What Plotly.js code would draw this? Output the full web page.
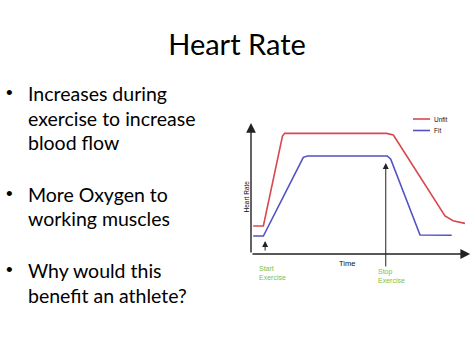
<!DOCTYPE html>
<html>
<head>
<meta charset="utf-8">
<script src="https://cdn.plot.ly/plotly-3.0.1.min.js"></script>
<style>
html,body{margin:0;padding:0;background:#fff;}
#chart{width:474px;height:355px;}
</style>
</head>
<body>
<div id="chart"></div>
<script>
// ---- data ----
const seriesNames = ['Unfit', 'Fit'];
const unfitTime = [1, 5.7, 14.5, 15.5, 62.5, 65.6, 89.4, 93.1, 98.6];
const unfitRate = [21.4, 21.4, 90, 92.1, 92.1, 90.8, 29, 25.4, 23.4];
const fitTime = [1, 5.7, 24.1, 26, 62.8, 64.4, 77.9, 92.5];
const fitRate = [13.7, 13.7, 73.8, 74.8, 74.8, 72.3, 14.5, 14.3];
const eventTimes = [6.5, 62.1];
const eventLabels = ['Start<br>Exercise', 'Stop<br>Exercise'];
const xTitle = 'Time';
const yTitle = 'Heart Rate';
const slideTitle = 'Heart Rate';
const bulletLines = [
  ['Increases during', 'exercise to increase', 'blood flow'],
  ['More Oxygen to', 'working muscles'],
  ['Why would this', 'benefit an athlete?']
];

// ---- layout helpers (plot area: x 251..468 px, y 123..254 px) ----
const PL = 251, PT = 123, PW = 217, PH = 131;
const px = v => (v - PL) / PW;
const py = v => (PT + PH - v) / PH;

const lineColors = ['#d9474f', '#5252c2'];
const green = '#7cbf4a';
const axisCol = '#222222';

const traces = [
  {x: unfitTime, y: unfitRate, name: seriesNames[0], mode: 'lines',
   line: {color: lineColors[0], width: 1.6}, hoverinfo: 'skip', cliponaxis: false},
  {x: fitTime, y: fitRate, name: seriesNames[1], mode: 'lines',
   line: {color: lineColors[1], width: 1.6}, hoverinfo: 'skip', cliponaxis: false}
];

const font = 'Lato, "Open Sans", sans-serif';
const annotations = [];
const shapes = [];

// axes with arrowheads
annotations.push({x: 101, y: 0, ax: 0, ay: 0, xref: 'x', yref: 'y', axref: 'x', ayref: 'y',
  showarrow: true, arrowhead: 2, arrowsize: 1.4, arrowwidth: 1.4, arrowcolor: axisCol, text: ''});
annotations.push({x: 0, y: 100, ax: 0, ay: 0, xref: 'x', yref: 'y', axref: 'x', ayref: 'y',
  showarrow: true, arrowhead: 2, arrowsize: 1.4, arrowwidth: 1.4, arrowcolor: axisCol, text: ''});

// axis titles
annotations.push({x: px(347), y: py(263), xref: 'paper', yref: 'paper', xanchor: 'center', yanchor: 'middle',
  text: xTitle, showarrow: false, font: {family: 'Arial, sans-serif', size: 7.5, color: '#111'}});
annotations.push({x: px(245.5), y: py(197), xref: 'paper', yref: 'paper', xanchor: 'center', yanchor: 'middle',
  text: yTitle, textangle: -90, showarrow: false, font: {family: 'Arial, sans-serif', size: 6.5, color: '#111'}});

// event arrows
const eventTailPx = [11, 105];
eventTimes.forEach((t, i) => {
  const headY = i === 0 ? 9.9 : 69.5;
  annotations.push({x: t, y: headY, xref: 'x', yref: 'y', ax: 0, ay: eventTailPx[i], axref: 'pixel', ayref: 'pixel',
    showarrow: true, arrowhead: 2, arrowsize: 1.2, arrowwidth: 1, arrowcolor: axisCol, text: ''});
});
const eventLabelPos = [[257, 273], [376, 276]];
eventLabels.forEach((lab, i) => {
  annotations.push({x: px(eventLabelPos[i][0]), y: py(eventLabelPos[i][1]), xref: 'paper', yref: 'paper',
    xanchor: 'left', yanchor: 'middle', align: 'left', text: lab, showarrow: false,
    font: {family: 'Arial, sans-serif', size: 7, color: green}});
});

// legend
const legY = [119, 130.5];
seriesNames.forEach((n, i) => {
  shapes.push({type: 'line', xref: 'paper', yref: 'paper', x0: px(413), x1: px(430), y0: py(legY[i]), y1: py(legY[i]),
    line: {color: lineColors[i], width: 1.6}});
  annotations.push({x: px(432), y: py(legY[i]), xref: 'paper', yref: 'paper', xanchor: 'left', yanchor: 'middle',
    text: n, showarrow: false, font: {family: 'Arial, sans-serif', size: 6.5, color: '#111'}});
});

// bullets
const bulletCenters = [[93, 118, 142], [194, 218], [270, 295]];
bulletLines.forEach((lines, b) => {
  annotations.push({x: px(4), y: py(bulletCenters[b][0] - 0.5), xref: 'paper', yref: 'paper', xanchor: 'left', yanchor: 'middle',
    text: '•', showarrow: false, font: {family: 'Arial, sans-serif', size: 19, color: '#000'}});
  lines.forEach((l, j) => {
    annotations.push({x: px(26), y: py(bulletCenters[b][j]), xref: 'paper', yref: 'paper', xanchor: 'left', yanchor: 'middle',
      text: l, showarrow: false, font: {family: font, size: 19.5, color: '#000'}});
  });
});

const layout = {
  width: 474, height: 355,
  margin: {l: PL, r: 474 - PL - PW, t: PT, b: 355 - PT - PH},
  paper_bgcolor: '#ffffff', plot_bgcolor: '#ffffff',
  showlegend: false,
  title: {text: slideTitle, x: 0.5, xanchor: 'center', y: 1 - 45 / 355, yanchor: 'middle', yref: 'container',
    font: {family: font, size: 29, color: '#000'}},
  xaxis: {range: [0, 100], showgrid: false, zeroline: false, showline: false, showticklabels: false, ticks: '', fixedrange: true},
  yaxis: {range: [0, 100], showgrid: false, zeroline: false, showline: false, showticklabels: false, ticks: '', fixedrange: true},
  annotations: annotations,
  shapes: shapes
};

Plotly.newPlot('chart', traces, layout, {staticPlot: true, displayModeBar: false});
</script>
</body>
</html>
